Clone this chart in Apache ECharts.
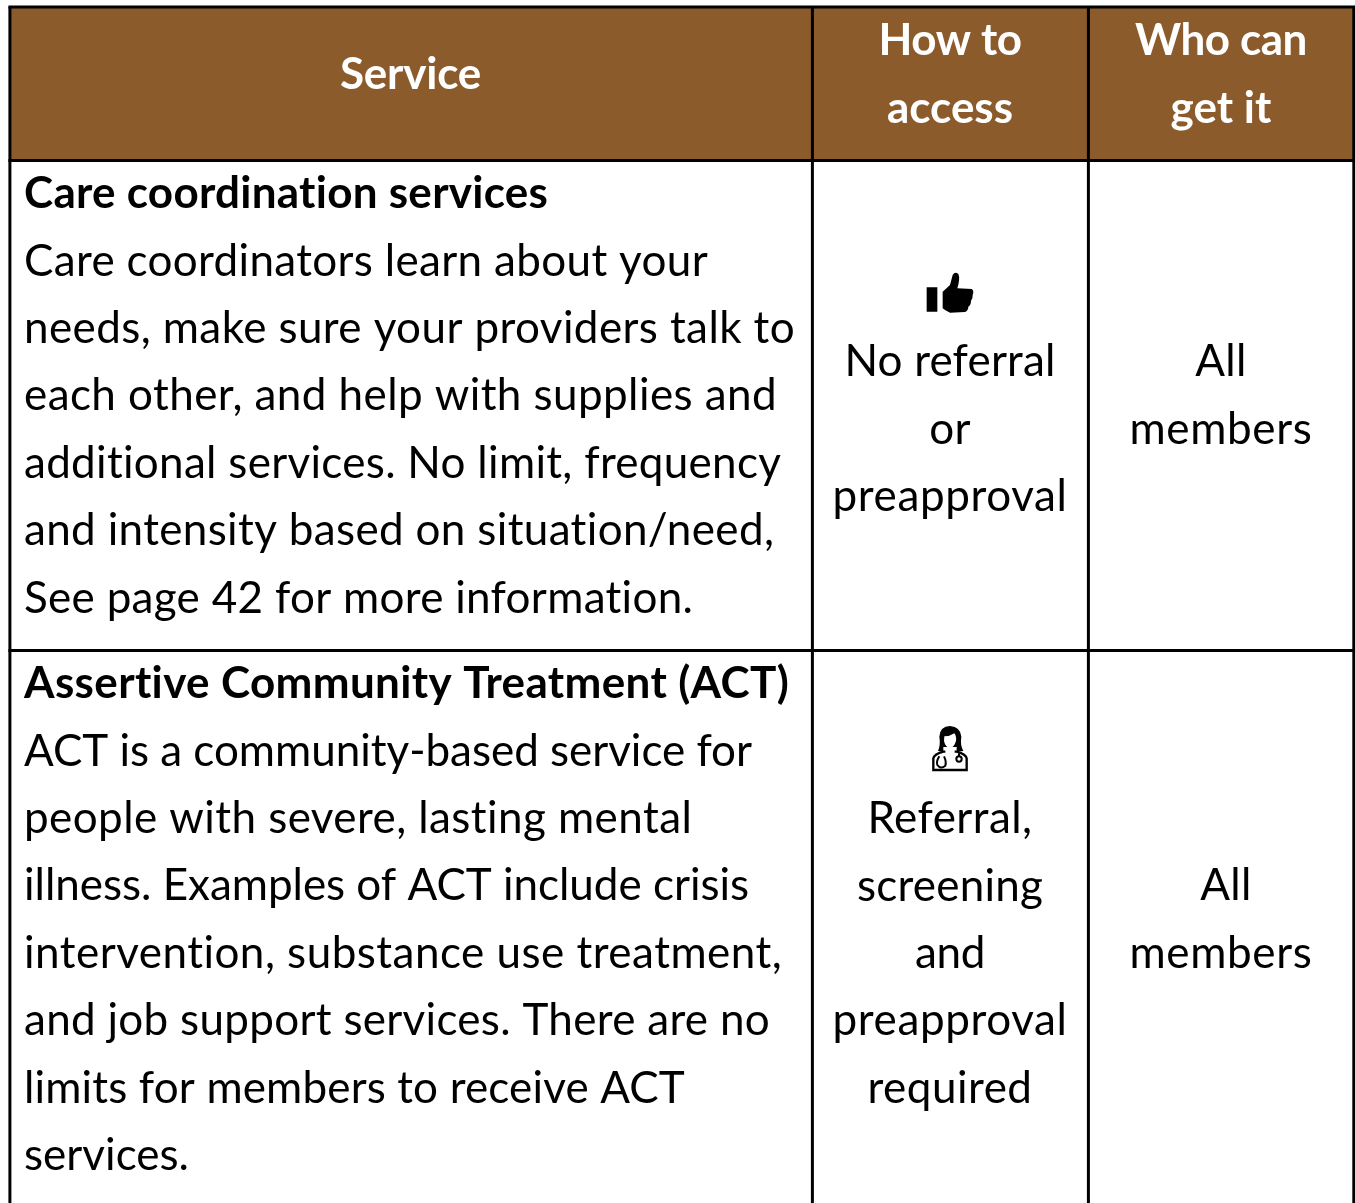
<!DOCTYPE html>
<html><head><meta charset="utf-8">
<style>html,body{margin:0;padding:0;background:#fff}#c{width:1355px;height:1203px}</style>
<script src="https://cdn.jsdelivr.net/npm/echarts@6/dist/echarts.min.js"></script></head>
<body><div id="c"></div>
<script>
const headerLabels = [["Service"],["How to","access"],["Who can","get it"]];
const rowTitles = ["Care coordination services","Assertive Community Treatment (ACT)"];
const rowBodies = [
 ["Care coordinators learn about your","needs, make sure your providers talk to","each other, and help with supplies and","additional services. No limit, frequency","and intensity based on situation/need,","See page 42 for more information."],
 ["ACT is a community-based service for","people with severe, lasting mental","illness. Examples of ACT include crisis","intervention, substance use treatment,","and job support services. There are no","limits for members to receive ACT","services."]
];
const accessText = [["No referral","or","preapproval"],["Referral,","screening","and","preapproval","required"]];
const whoText = [["All","members"],["All","members"]];
const FONT = 'Lato', SIZE = 44, LH = 67.4;
// line widths in the reference; the substitute face is tracked per line to fill them
const lineWidths = {
 "Service":141,"How to":143,"access":126,"Who can":172,"get it":101,
 "Care coordination services":525,"Care coordinators learn about your":684,"needs, make sure your providers talk to":771,
 "each other, and help with supplies and":753,"additional services. No limit, frequency":758,"and intensity based on situation/need,":751,
 "See page 42 for more information.":670,"Assertive Community Treatment (ACT)":766,"ACT is a community-based service for":728,
 "people with severe, lasting mental":669,"illness. Examples of ACT include crisis":725,"intervention, substance use treatment,":759,
 "and job support services. There are no":746,"limits for members to receive ACT":661,"services.":165,
 "No referral":211,"preapproval":235,"Referral,":165,"screening":186,"and":70,"required":165,"members":183
};
const mctx = document.createElement('canvas').getContext('2d');
const ft = CanvasRenderingContext2D.prototype.fillText;
CanvasRenderingContext2D.prototype.fillText = function(s){
  this.letterSpacing = '0px';
  let sp = 0.3;
  if (lineWidths[s]) { mctx.font = this.font; sp = (lineWidths[s] - mctx.measureText(s).width) / s.length; }
  if (Math.abs(sp) < 0.02) sp = 0.02; // any tracking keeps the "ti" ligature off
  this.letterSpacing = sp.toFixed(3) + 'px';
  return ft.apply(this, arguments);
};
const colX = [9.9, 812.4, 1088.4, 1353.8], headBottom = 160.5, rowLine = 650.4, topY = 7;
const g = [];
g.push({type:'rect',shape:{x:colX[0],y:topY,width:colX[3]-colX[0],height:headBottom-topY},style:{fill:'#8B5B2B'}});
function line(x1,y1,x2,y2,w){g.push({type:'line',shape:{x1,y1,x2,y2},style:{stroke:'#000',lineWidth:w||3},z:5});}
line(colX[0]-1.5,topY,colX[3]+1.5,topY,2.8);
line(colX[0]-1.5,headBottom,colX[3]+1.5,headBottom,3);
line(colX[0]-1.5,rowLine,colX[3]+1.5,rowLine,3);
colX.forEach(x=>line(x,topY,x,1203,3));
function t(text,x,y,o){o=o||{};g.push({type:'text',x,y:y+1,z:6,style:{text,fill:o.fill||'#000',font:(o.bold?'bold ':'')+SIZE+'px '+FONT,textAlign:o.align||'left',textVerticalAlign:'middle'}});}
t(headerLabels[0][0],410.5,73.5,{bold:1,fill:'#fff',align:'center'});
headerLabels[1].forEach((s,i)=>t(s,950,40+i*LH,{bold:1,fill:'#fff',align:'center'}));
headerLabels[2].forEach((s,i)=>t(s,1221,40+i*LH,{bold:1,fill:'#fff',align:'center'}));
t(rowTitles[0],24,193,{bold:1});
rowBodies[0].forEach((s,i)=>t(s,24,193+(i+1)*LH));
t(rowTitles[1],24,683,{bold:1});
rowBodies[1].forEach((s,i)=>t(s,24,683+(i+1)*LH));
accessText[0].forEach((s,i)=>t(s,950,361+i*LH,{align:'center'}));
accessText[1].forEach((s,i)=>t(s,950,818+i*LH,{align:'center'}));
t(whoText[0][0],1221,361,{align:'center'});t(whoText[0][1],1221,429,{align:'center'});
t(whoText[1][0],1226,885,{align:'center'});t(whoText[1][1],1221,953,{align:'center'});
function icon(name,d,tr,style){
  echarts.graphic.registerShape(name,echarts.graphic.extendPath(d,{}));
  g.push(Object.assign({type:name,style,scaleX:1/3,scaleY:1/3,z:6},tr));
}
const thumb={x:900,y:260}, doc={x:910,y:715};
icon('thumbIcon','M80 82H112V155H80Z M128 95L150 75L158 45Q165 33 175 42Q181 55 172 85L215 87Q223 92 218 105Q219 115 213 122Q213 135 205 140Q205 152 195 156L150 158Q135 152 128 145Z',thumb,{fill:'#000'});
icon('docBody','M70 165V130Q72 118 100 110H140Q168 118 170 130V165Z',doc,{fill:'#fff',stroke:'#000',lineWidth:7});
icon('docHair','M84 108Q92 90 88 65Q90 34 120 33Q152 36 154 65Q150 90 160 108L140 110V96H100V110Z',doc,{fill:'#000'});
icon('docFace','M103 64Q120 64 133 55Q140 64 138 78Q132 98 120 99Q106 97 102 78Z',doc,{fill:'#fff'});
icon('docNeck','M106 114V100H134V114L120 122Z',doc,{fill:'#fff'});
icon('docSteth','M88 124Q78 140 82 150Q92 164 106 152Q110 140 102 124',doc,{fill:'none',stroke:'#000',lineWidth:6});
icon('docBell','M147 115V124 M147 124a8 8 0 1 0 0.1 0Z',doc,{fill:'none',stroke:'#000',lineWidth:6});
const chart=echarts.init(document.getElementById('c'),null,{renderer:'canvas'});
chart.setOption({animation:false,backgroundColor:'#fff',graphic:{elements:g}});
</script></body></html>
